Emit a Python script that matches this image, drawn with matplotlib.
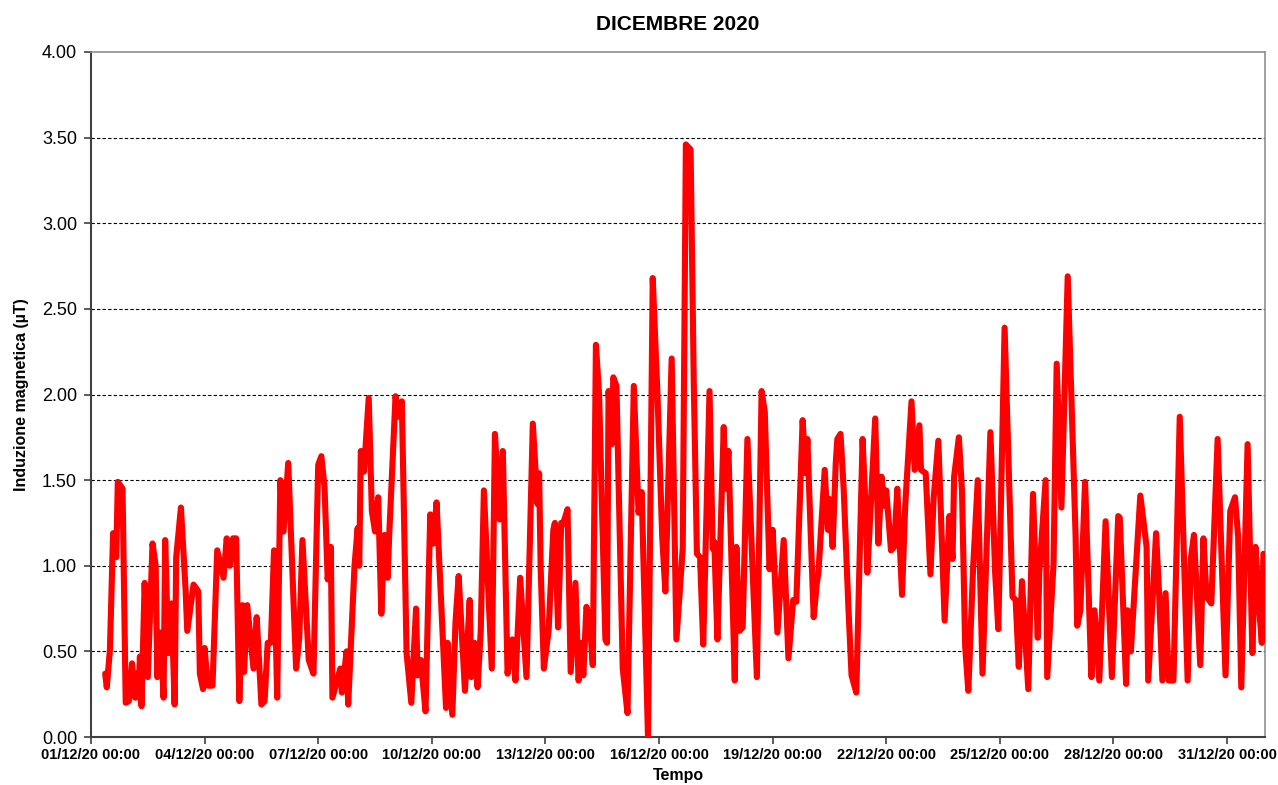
import numpy as np
import pandas as pd
import matplotlib
matplotlib.use("Agg")
import matplotlib.pyplot as plt
import matplotlib.dates as mdates

# Hours elapsed since 01/12/2020 00:00 and measured magnetic induction (µT)
hours = [9, 10, 12, 14, 16, 17, 20, 22, 24, 26, 28, 29, 30, 31, 32, 34, 36, 39, 41, 42,
         44, 46, 47, 49, 51, 53, 54, 57, 60, 61, 65, 68, 69, 71, 72, 74, 77, 80, 84, 86, 88,
         90, 92, 94, 96, 97, 99, 103, 105, 108, 110, 112, 114, 116, 118, 120, 122, 125, 130, 132, 134,
         138, 141, 144, 146, 148, 150, 152, 153, 158, 159, 162, 163, 167, 169, 170, 171, 173, 176, 178, 180,
         182, 184, 186, 188, 189, 193, 195, 197, 200, 203, 206, 207, 209, 212, 215, 217, 219, 225, 226, 229,
         231, 233, 237, 240, 241, 243, 245, 247, 249, 254, 256, 259, 261, 264, 267, 269, 272, 276, 280, 283,
         284, 285, 287, 290, 293, 294, 296, 298, 299, 302, 304, 307, 309, 311, 312, 314, 316, 318, 320, 322,
         326, 327, 328, 330, 331, 333, 337, 340, 344, 347, 349, 353, 356, 359, 362, 364, 368, 371, 375, 377,
         380, 382, 384, 386, 388, 392, 394, 395, 397, 401, 402, 404, 408, 409, 411, 413, 416, 422, 425, 427,
         430, 432, 435, 439, 442, 445, 447, 451, 453, 454, 458, 460, 461, 465, 467, 468, 470, 472, 473, 475,
         477, 480, 482, 485, 489, 491, 492, 497, 499, 501, 503, 504, 507, 509, 511, 514, 516, 520, 522, 525,
         526, 529, 532, 534, 537, 541, 544, 546, 547, 550, 552, 554, 556, 559, 562, 565, 570, 573, 575, 579,
         584, 586, 588, 590, 594, 597, 600, 601, 605, 606, 610, 612, 615, 619, 624, 625, 627, 630, 634, 636,
         639, 643, 647, 651, 652, 656, 657, 659, 663, 665, 669, 670, 675, 677, 679, 681, 683, 686, 690, 695,
         697, 699, 703, 705, 707, 710, 714, 719, 722, 725, 727, 729, 733, 736, 738, 740, 742, 743]

values = [0.37, 0.29, 0.51, 1.19, 1.05, 1.49, 1.45, 0.20, 0.21, 0.43, 0.23, 0.37, 0.23, 0.47, 0.18, 0.90, 0.35, 1.13, 1.00, 0.35,
          0.61, 0.23, 1.15, 0.49, 0.78, 0.19, 1.05, 1.34, 0.85, 0.62, 0.89, 0.85, 0.37, 0.28, 0.52, 0.30, 0.30, 1.09, 0.93, 1.16, 1.00,
          1.16, 1.16, 0.21, 0.77, 0.38, 0.77, 0.40, 0.70, 0.19, 0.21, 0.55, 0.55, 1.09, 0.23, 1.50, 1.20, 1.60, 0.40, 0.58, 1.15,
          0.45, 0.37, 1.59, 1.64, 1.46, 0.92, 1.11, 0.23, 0.40, 0.26, 0.50, 0.19, 1.00, 1.22, 1.00, 1.67, 1.55, 1.98, 1.32, 1.20,
          1.40, 0.72, 1.18, 0.93, 1.18, 1.99, 1.87, 1.96, 0.49, 0.20, 0.75, 0.36, 0.45, 0.15, 1.30, 1.13, 1.37, 0.17, 0.55, 0.13,
          0.67, 0.94, 0.27, 0.80, 0.35, 0.55, 0.29, 0.62, 1.44, 0.40, 1.77, 1.27, 1.67, 0.37, 0.57, 0.33, 0.93, 0.35, 1.83, 1.36,
          1.54, 0.98, 0.40, 0.62, 1.21, 1.25, 0.64, 1.25, 1.24, 1.33, 0.38, 0.90, 0.33, 0.55, 0.36, 0.76, 0.69, 0.42, 2.29, 2.00,
          0.57, 0.55, 2.02, 1.71, 2.10, 2.05, 0.40, 0.14, 2.05, 1.31, 1.43, 0.00, 2.68, 2.00, 1.17, 0.85, 2.21, 0.57, 1.10, 3.46,
          3.43, 2.07, 1.07, 1.05, 0.54, 2.02, 1.10, 1.14, 0.57, 1.81, 1.45, 1.67, 0.33, 1.11, 0.62, 0.64, 1.74, 0.35, 2.02, 1.90,
          0.98, 1.21, 0.61, 1.15, 0.46, 0.80, 0.79, 1.85, 1.54, 1.74, 0.70, 0.90, 0.96, 1.56, 1.21, 1.39, 1.11, 1.60, 1.74, 1.77,
          1.45, 0.76, 0.36, 0.26, 1.74, 1.31, 0.96, 1.86, 1.13, 1.52, 1.35, 1.44, 1.09, 1.11, 1.45, 0.83, 1.35, 1.96, 1.56, 1.82,
          1.56, 1.54, 0.95, 1.39, 1.73, 0.68, 1.29, 1.04, 1.52, 1.75, 1.44, 0.53, 0.27, 0.98, 1.50, 0.37, 1.78, 0.96, 0.63, 2.39,
          0.82, 0.80, 0.41, 0.91, 0.28, 1.42, 0.58, 0.96, 1.50, 0.35, 1.01, 2.18, 1.34, 2.69, 1.17, 0.65, 0.74, 1.49, 0.35, 0.74,
          0.33, 1.26, 0.35, 1.29, 1.28, 0.31, 0.74, 0.50, 1.11, 1.41, 1.11, 0.33, 1.19, 0.82, 0.33, 0.84, 0.33, 0.33, 1.87, 0.33,
          1.04, 1.18, 0.42, 1.16, 0.82, 0.78, 1.74, 0.36, 1.32, 1.40, 1.17, 0.29, 1.71, 0.49, 1.11, 0.79, 0.55, 1.07]

title = "DICEMBRE 2020"
ylabel = "Induzione magnetica (µT)"
xlabel = "Tempo"
y_ticks = [0.0, 0.5, 1.0, 1.5, 2.0, 2.5, 3.0, 3.5, 4.0]

start = pd.Timestamp("2020-12-01 00:00")
end = pd.Timestamp("2021-01-01 00:00")
times = start + pd.to_timedelta(hours, unit="h")
x_ticks = pd.date_range("2020-12-01", "2020-12-31", freq="3D")

plt.rcParams['font.family'] = ['Liberation Sans', 'DejaVu Sans']

fig = plt.figure(figsize=(12.78, 7.85), dpi=100)
ax = fig.add_axes([0.0712, 0.0611, 0.9186, 0.8727])

ax.plot(times, values, color="#ff0000", lw=4.4, solid_joinstyle="round", solid_capstyle="round", zorder=3)

ax.set_xlim(start, end)
ax.set_ylim(0, 4)
ax.set_yticks(y_ticks)
ax.yaxis.set_major_formatter(matplotlib.ticker.FormatStrFormatter("%.2f"))
ax.set_xticks(x_ticks)
ax.xaxis.set_major_formatter(mdates.DateFormatter("%d/%m/%y %H:%M"))

for yv in y_ticks[1:-1]:
    ax.axhline(yv, color="black", lw=0.8, ls=(0, (3, 2)), zorder=1)

for s in ["top", "right"]:
    ax.spines[s].set_color("#909090")
    ax.spines[s].set_linewidth(1.2)
for s in ["left", "bottom"]:
    ax.spines[s].set_color("#404040")
    ax.spines[s].set_linewidth(1.5)

ax.tick_params(axis="y", direction="out", length=5, width=1.2, color="#404040", labelsize=13, pad=5)
ax.tick_params(axis="x", direction="out", length=5, width=1.2, color="#404040", labelsize=10.5, pad=3)
for lab in ax.get_xticklabels():
    lab.set_fontweight("bold")

ax.set_title(title, fontsize=15, fontweight="bold", pad=16)
ax.set_ylabel(ylabel, fontsize=11.5, fontweight="bold", labelpad=9)
ax.set_xlabel(xlabel, fontsize=11.5, fontweight="bold", labelpad=4)

fig.savefig("out.png", dpi=100)
